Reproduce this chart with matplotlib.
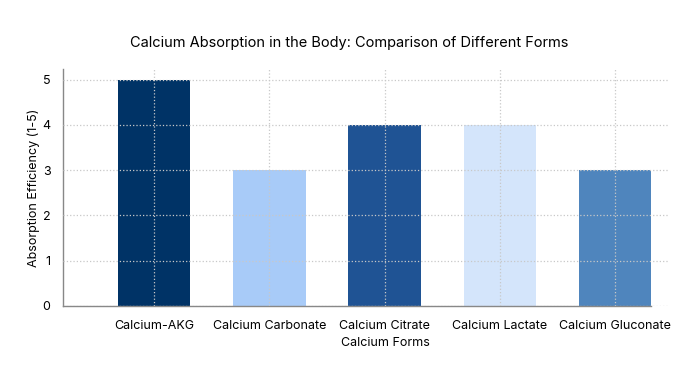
import matplotlib
matplotlib.use("Agg")
import matplotlib.pyplot as plt
import numpy as np

plt.rcParams['font.family'] = ['Inter', 'DejaVu Sans']

# data
forms = ["Calcium-AKG", "Calcium Carbonate", "Calcium Citrate", "Calcium Lactate", "Calcium Gluconate"]
efficiency = [5, 3, 4, 4, 3]
colors = ["#003366", "#a8cbf8", "#1f5394", "#d4e5fb", "#4f85bd"]

fig = plt.figure(figsize=(6.98, 3.82), dpi=100)
ax = fig.add_axes([0.0903, 0.199, 0.867, 0.62])

x = np.arange(len(forms))
width = 0.63
ax.bar(x, efficiency, width=width, color=colors, edgecolor="none", zorder=1)

ax.set_xlim(-0.79, 4.46)
ax.set_ylim(0, 5.23)
ax.set_xticks(x)
ax.set_xticklabels(forms, fontsize=9)
ax.set_yticks(range(6))
ax.tick_params(axis='both', length=0, labelsize=9)
ax.tick_params(axis='y', pad=9)
ax.tick_params(axis='x', pad=10)

ax.grid(True, linestyle=':', color="#c8c8c8", linewidth=0.9, zorder=3)
ax.set_axisbelow(False)

for s in ["top", "right"]:
    ax.spines[s].set_visible(False)
for s in ["left", "bottom"]:
    ax.spines[s].set_color("#888888")
    ax.spines[s].set_linewidth(1.0)
ax.spines["bottom"].set_bounds(-0.79, 4 + width / 2)

ax.set_ylabel("Absorption Efficiency (1-5)", fontsize=9, labelpad=2)
ax.set_xlabel("Calcium Forms", fontsize=9)
ax.xaxis.set_label_coords(0.532, -0.13)
fig.suptitle("Calcium Absorption in the Body: Comparison of Different Forms", fontsize=10.5, x=0.5, y=0.905)

fig.savefig("out.png", dpi=100)
